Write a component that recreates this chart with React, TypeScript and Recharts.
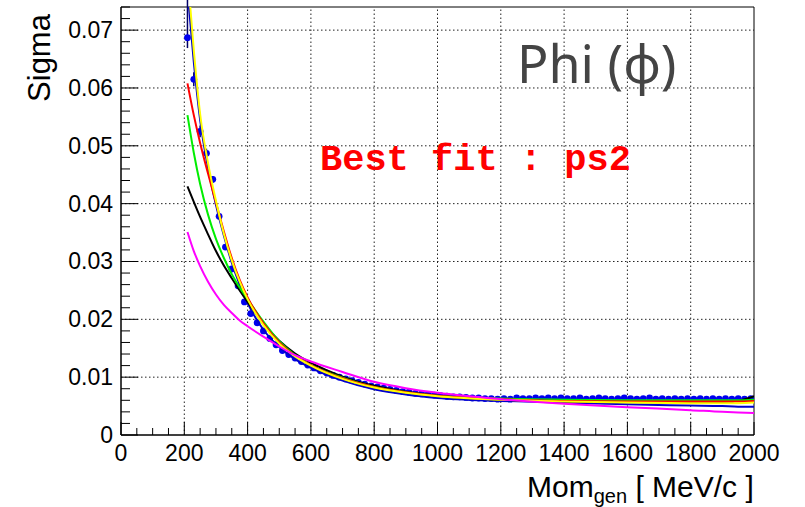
import React from 'react';
import { ComposedChart, Scatter, XAxis, YAxis, ReferenceLine, ReferenceArea, ErrorBar } from 'recharts';

const W = 805;
const H = 507;

const xMajorTicks = [0, 200, 400, 600, 800, 1000, 1200, 1400, 1600, 1800, 2000];
const xTickLabels = ['0', '200', '400', '600', '800', '1000', '1200', '1400', '1600', '1800', '2000'];
const yMajorTicks = [0, 0.01, 0.02, 0.03, 0.04, 0.05, 0.06, 0.07];
const yTickLabels = ['0', '0.01', '0.02', '0.03', '0.04', '0.05', '0.06', '0.07'];
const X_MINOR = 50;
const Y_MINOR = 0.002;
const X_MAX = 2000;
const Y_MAX = 0.074;

// measured points (bins of 20 MeV/c)
const dataX = [
  210, 230, 250, 270, 290, 310, 330, 350, 370, 390,
  410, 430, 450, 470, 490, 510, 530, 550, 570, 590,
  610, 630, 650, 670, 690, 710, 730, 750, 770, 790,
  810, 830, 850, 870, 890, 910, 930, 950, 970, 990,
  1010, 1030, 1050, 1070, 1090, 1110, 1130, 1150, 1170, 1190,
  1210, 1230, 1250, 1270, 1290, 1310, 1330, 1350, 1370, 1390,
  1410, 1430, 1450, 1470, 1490, 1510, 1530, 1550, 1570, 1590,
  1610, 1630, 1650, 1670, 1690, 1710, 1730, 1750, 1770, 1790,
  1810, 1830, 1850, 1870, 1890, 1910, 1930, 1950, 1970, 1990,
];
const dataY = [
  0.0687, 0.0615, 0.0525, 0.0487, 0.0442, 0.0378, 0.0325, 0.0287, 0.0258, 0.0230,
  0.0210, 0.0194, 0.0180, 0.0167, 0.0156, 0.0146, 0.0139, 0.0133, 0.0127, 0.0121,
  0.0116, 0.0111, 0.0107, 0.0103, 0.0100, 0.0097, 0.0094, 0.0091, 0.0088, 0.0085,
  0.0083, 0.0081, 0.0079, 0.0077, 0.0075, 0.0074, 0.0072, 0.0071, 0.0070, 0.0069,
  0.0068, 0.0067, 0.0066, 0.0066, 0.0065, 0.0064, 0.0064, 0.0063, 0.0063, 0.0062,
  0.0063, 0.0062, 0.0064, 0.0063, 0.0063, 0.0064, 0.0063, 0.0064, 0.0063, 0.0064,
  0.0063, 0.0063, 0.0064, 0.0062, 0.0063, 0.0064, 0.0063, 0.0062, 0.0063, 0.0064,
  0.0063, 0.0062, 0.0063, 0.0064, 0.0062, 0.0063, 0.0062, 0.0063, 0.0062, 0.0063,
  0.0062, 0.0063, 0.0062, 0.0063, 0.0062, 0.0063, 0.0062, 0.0063, 0.0062, 0.0063,
];
const dataErrLow = [0.0018, 0.0012, 0.001, 0.0008, 0.0006];
const dataErrHigh = [0.008, 0.0012, 0.001, 0.0008, 0.0006];
const DEFAULT_ERR = 0.0003;

// fit curves
const curveX = [210, 230, 250, 275, 300, 325, 350, 375, 400, 450, 500, 550, 600, 700, 800, 900, 1000, 1200, 1400, 1600, 1800, 1900, 1950, 2000];
const fitBlue = [0.0770, 0.0645, 0.0545, 0.0462, 0.0398, 0.0345, 0.0298, 0.0260, 0.0228, 0.0182, 0.0152, 0.0131, 0.0116, 0.0094, 0.0079, 0.0070, 0.0064, 0.0059, 0.0056, 0.0053, 0.0051, 0.0050, 0.0049, 0.0049];
const fitYellow = [0.0800, 0.0665, 0.0555, 0.0470, 0.0405, 0.0348, 0.0302, 0.0265, 0.0235, 0.0190, 0.0158, 0.0136, 0.0120, 0.0097, 0.0082, 0.0073, 0.0067, 0.0061, 0.0058, 0.0056, 0.0055, 0.0055, 0.0055, 0.0056];
const fitRed = [0.0608, 0.0553, 0.0505, 0.0452, 0.0402, 0.0352, 0.0306, 0.0268, 0.0238, 0.0193, 0.0160, 0.0137, 0.0121, 0.0098, 0.0083, 0.0074, 0.0068, 0.0062, 0.0059, 0.0058, 0.0058, 0.0058, 0.0058, 0.0059];
const fitGreen = [0.0553, 0.0488, 0.0434, 0.0381, 0.0339, 0.0306, 0.0278, 0.0255, 0.0235, 0.0196, 0.0162, 0.0138, 0.0121, 0.0099, 0.0083, 0.0074, 0.0068, 0.0063, 0.0061, 0.0060, 0.0060, 0.0060, 0.0060, 0.0061];
const fitBlack = [0.0430, 0.0403, 0.0377, 0.0347, 0.0318, 0.0293, 0.0271, 0.0250, 0.0230, 0.0193, 0.0163, 0.0141, 0.0125, 0.0101, 0.0085, 0.0075, 0.0068, 0.0061, 0.0058, 0.0057, 0.0056, 0.0057, 0.0059, 0.0067];
const fitMagenta = [0.0351, 0.0318, 0.0292, 0.0265, 0.0243, 0.0225, 0.0211, 0.0198, 0.0188, 0.0170, 0.0153, 0.0138, 0.0127, 0.0109, 0.0092, 0.0081, 0.0073, 0.0062, 0.0054, 0.0048, 0.0043, 0.0040, 0.0039, 0.0038];

const points = dataX.map((x, i) => ({
  x,
  y: dataY[i],
  err: [i < dataErrLow.length ? dataErrLow[i] : DEFAULT_ERR, i < dataErrHigh.length ? dataErrHigh[i] : DEFAULT_ERR],
}));
const toSeries = (ys: number[]) => curveX.map((x, i) => ({ x, y: ys[i] }));

const fits = [
  { name: 'blue', color: '#0000cc', values: fitBlue },
  { name: 'black', color: '#000000', values: fitBlack },
  { name: 'green', color: '#00ee00', values: fitGreen },
  { name: 'red', color: '#ff0000', values: fitRed },
  { name: 'yellow', color: '#ffff00', values: fitYellow },
  { name: 'magenta', color: '#ff00ff', values: fitMagenta },
];

const xTicksAll: number[] = [];
for (let v = 0; v <= X_MAX; v += X_MINOR) xTicksAll.push(v);
const yTicksAll: number[] = [];
for (let k = 0; k * Y_MINOR <= Y_MAX + 1e-9; k++) yTicksAll.push(Math.round(k * Y_MINOR * 10000) / 10000);

const FONT = "'Liberation Sans', Arial, Helvetica, sans-serif";

const XTick = (props: any) => {
  const { x, y, payload } = props;
  const idx = xMajorTicks.findIndex((t) => Math.abs(t - payload.value) < 1e-6);
  const major = idx >= 0;
  return (
    <g>
      <line x1={x} x2={x} y1={y} y2={y - (major ? 13 : 7)} stroke="#000" strokeWidth={1} />
      {major && (
        <text x={x} y={y + 26} textAnchor="middle" fontFamily={FONT} fontSize={23} fill="#000">
          {xTickLabels[idx]}
        </text>
      )}
    </g>
  );
};

const YTick = (props: any) => {
  const { x, y, payload } = props;
  const idx = yMajorTicks.findIndex((t) => Math.abs(t - payload.value) < 1e-7);
  const major = idx >= 0;
  return (
    <g>
      <line x1={x} x2={x + (major ? 17 : 9)} y1={y} y2={y} stroke="#000" strokeWidth={1} />
      {major && (
        <text x={x - 8} y={y + 8} textAnchor="end" fontFamily={FONT} fontSize={23} fill="#000">
          {yTickLabels[idx]}
        </text>
      )}
    </g>
  );
};

const Dot = (props: any) => {
  const { cx, cy } = props;
  if (cx == null || cy == null) return <g />;
  return <circle cx={cx} cy={cy} r={3.4} fill="#0000ee" />;
};
const NoDot = () => <g />;

export default function App() {
  return (
    <div style={{ position: 'absolute', left: 0, top: 0, width: W, height: H, background: '#fff' }}>
      <ComposedChart width={W} height={H} margin={{ top: 7, right: 51, bottom: 0, left: 0 }}>
        <XAxis
          type="number"
          dataKey="x"
          domain={[0, X_MAX]}
          ticks={xTicksAll}
          interval={0}
          allowDataOverflow
          height={72}
          tickSize={0}
          tickMargin={0}
          tickLine={false}
          axisLine={{ stroke: '#000' }}
          tick={<XTick />}
        />
        <YAxis
          type="number"
          dataKey="y"
          domain={[0, Y_MAX]}
          ticks={yTicksAll}
          interval={0}
          allowDataOverflow
          width={121}
          tickSize={0}
          tickMargin={0}
          tickLine={false}
          axisLine={{ stroke: '#000' }}
          tick={<YTick />}
        />
        {xMajorTicks.slice(1, -1).map((v) => (
          <ReferenceLine key={'gx' + v} x={v} stroke="#222" strokeWidth={1} strokeDasharray="1.5 2.5" />
        ))}
        {yMajorTicks.slice(1).map((v) => (
          <ReferenceLine key={'gy' + v} y={v} stroke="#222" strokeWidth={1} strokeDasharray="1.5 2.5" />
        ))}
        <Scatter name="data" data={points} dataKey="y" isAnimationActive={false} shape={<Dot />}>
          <ErrorBar dataKey="err" direction="y" width={0} stroke="#000066" strokeWidth={1.5} />
        </Scatter>
        {fits.map((f) => (
          <Scatter
            key={f.name}
            name={f.name}
            data={toSeries(f.values)}
            dataKey="y"
            fill="none"
            stroke={f.color}
            line={{ stroke: f.color, strokeWidth: 2, fill: 'none' }}
            lineJointType="monotoneX"
            shape={<NoDot />}
            isAnimationActive={false}
          />
        ))}
        <ReferenceArea x1={0} x2={X_MAX} y1={0} y2={Y_MAX} fill="none" fillOpacity={0} stroke="#000" strokeWidth={1} />
      </ComposedChart>
      <svg width={W} height={H} style={{ position: 'absolute', left: 0, top: 0, pointerEvents: 'none' }}>
        <text transform="translate(50,58) rotate(-90)" textAnchor="middle" fontFamily={FONT} fontSize={31} fill="#000">
          Sigma
        </text>
        <text x={527} y={497} fontFamily={FONT} fontSize={30} fill="#000" style={{ whiteSpace: 'pre' }}>
          Mom
          <tspan fontSize={20} dy={6}>gen</tspan>
          <tspan fontSize={30} dy={-6}>{' [ MeV/c ]'}</tspan>
        </text>
        <text x={517} y={83} fontFamily="'Noto Sans', 'Open Sans', sans-serif" fontSize={52} fill="#444">
          Phi (ϕ)
        </text>
        <text x={320} y={170} fontFamily="'Liberation Mono', 'Courier New', monospace" fontWeight="bold" fontSize={37} fill="#ff0000" style={{ whiteSpace: 'pre' }}>
          Best fit : ps2
        </text>
      </svg>
    </div>
  );
}
